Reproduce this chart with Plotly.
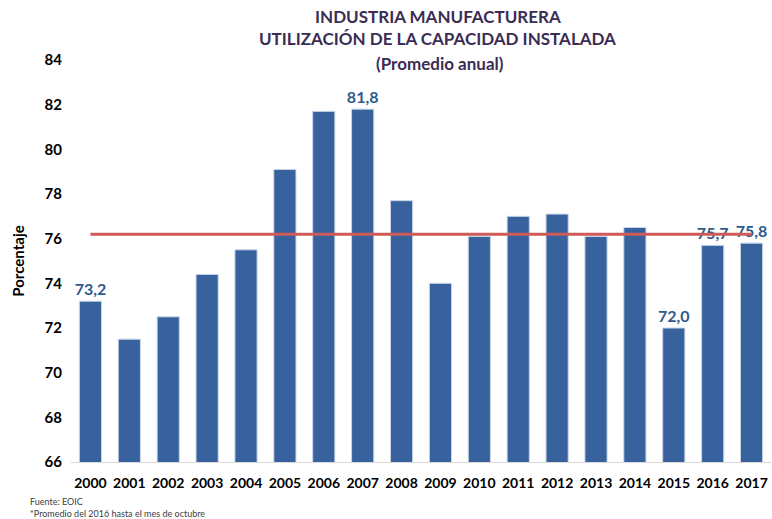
import plotly.graph_objects as go

years = ["2000", "2001", "2002", "2003", "2004", "2005", "2006", "2007", "2008",
         "2009", "2010", "2011", "2012", "2013", "2014", "2015", "2016", "2017"]
values = [73.2, 71.5, 72.5, 74.4, 75.5, 79.1, 81.7, 81.8, 77.7,
          74.0, 76.1, 77.0, 77.1, 76.1, 76.5, 72.0, 75.7, 75.8]
labeled_years = ["2000", "2007", "2015", "2016", "2017"]
promedio = [76.2] * len(years)
y_ticks = [66, 68, 70, 72, 74, 76, 78, 80, 82, 84]

labels = [f"{v:.1f}".replace(".", ",") if y in labeled_years else "" for y, v in zip(years, values)]

FONT = "Lato"

fig = go.Figure()
fig.add_trace(go.Bar(
    x=years, y=values, text=labels, textposition="outside",
    textfont=dict(family=FONT, size=16, color="#2F5A8E", weight="bold"),
    constraintext="none", cliponaxis=False,
    marker=dict(color="#38629D", line=dict(color="#C9D6E8", width=1)),
    hoverinfo="x+y", showlegend=False,
))
fig.add_trace(go.Scatter(
    x=years, y=promedio, mode="lines",
    line=dict(color="#CD5B57", width=3), showlegend=False, hoverinfo="skip",
))

W, H = 772, 519
l, r, t, b = 71, 1, 60, 57
pw, ph = W - l - r, H - t - b

def ann(text, px, py, title=True):
    d = dict(text=text, xref="paper", yref="paper", showarrow=False,
             x=(px - l) / pw, y=((H - py) - b) / ph, yanchor="middle")
    if title:
        d.update(xanchor="center", font=dict(family=FONT, size=17, color="#3B2C55"))
    else:
        d.update(xanchor="left", font=dict(family=FONT, size=9, color="#404040"))
    return d

fig.update_layout(
    width=W, height=H,
    margin=dict(l=l, r=r, t=t, b=b),
    paper_bgcolor="white", plot_bgcolor="white",
    bargap=0.43,
    font=dict(family=FONT, color="#000000"),
    xaxis=dict(showgrid=False, showline=True, linecolor="#D9D9D9", linewidth=1,
               ticks="", tickfont=dict(family=FONT, size=14, color="#000", weight="bold"),
               ticklabelstandoff=8),
    yaxis=dict(range=[66, 84], tickvals=y_ticks, showgrid=False, zeroline=False,
               showline=False, ticks="",
               tickfont=dict(family=FONT, size=15, color="#000", weight="bold"),
               ticklabelstandoff=8,
               title=dict(text="Porcentaje", font=dict(family=FONT, size=15, color="#000", weight="bold"),
                          standoff=16)),
    annotations=[
        ann("<b>INDUSTRIA MANUFACTURERA</b>", 438, 16),
        ann("<b>UTILIZACIÓN DE LA CAPACIDAD INSTALADA</b>", 438, 39),
        ann("<b>(Promedio anual)</b>", 440, 63),
        ann("Fuente: EOIC", 28, 501, title=False),
        ann("*Promedio del 2016 hasta el mes de octubre", 28, 513, title=False),
    ],
)

fig.write_html("out.html", config={"displayModeBar": False},
               post_script="document.body.style.margin='0px';document.body.style.padding='0px';")
